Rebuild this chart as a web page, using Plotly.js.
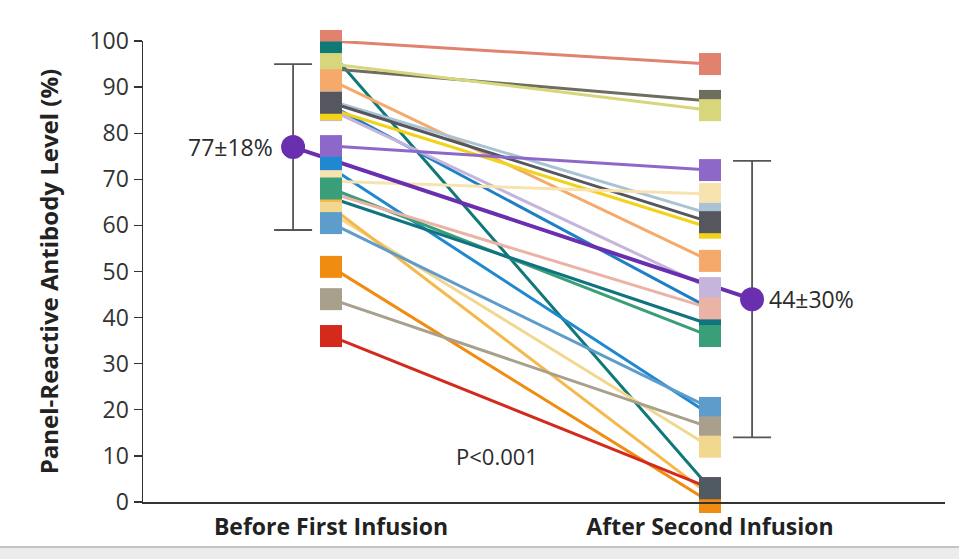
<!DOCTYPE html>
<html>
<head>
<meta charset="utf-8">
<script src="https://cdn.plot.ly/plotly-3.0.1.min.js"></script>
<style>
  html, body { margin: 0; padding: 0; background: #fff; }
  #chart { width: 959px; height: 559px; }
</style>
</head>
<body>
<div id="chart"></div>
<script>
// Panel-reactive antibody level per patient, before the first and after the second infusion (%)
const categories = ['Before First Infusion', 'After Second Infusion'];
const beforeFirst  = [100, 97.5, 94, 95, 91.5, 87, 86.6, 86, 85.2, 85, 77.2, 72.5, 69.6, 68, 67, 66, 62.7, 64, 60.5, 51, 44, 36];
const afterSecond  = [95, 3, 87, 85, 52.3, 62.5, 60.7, 42, 59.5, 46.4, 72, 19, 66.8, 36, 42, 38.5, 12, 1.5, 20.4, 0, 16.2, 3];
const patientColors = ['#e0826e', '#117878', '#6e6e5e', '#d8d67c', '#f5aa6c', '#a9c3d4', '#56565f', '#1f7fc4',
                       '#f2d21a', '#c5b5dc', '#8d68c8', '#1f88d0', '#f7e3b0', '#3a9e78', '#ebb3a6', '#0f7480',
                       '#f2d88e', '#f5b84a', '#5d9ccb', '#f08c10', '#a89f8c', '#d42a1c'];
// colour of the square drawn on top where several patients end at the same level
const afterMarkerColors = patientColors.slice();
afterMarkerColors[1] = '#4f5a62';
// stacking of the squares in each column (last drawn is on top)
const beforeStack = [5, 7, 9, 2, 14, 15, 17, 0, 1, 3, 4, 8, 6, 10, 11, 12, 13, 16, 18, 19, 20, 21];
const afterStack  = [0, 2, 3, 10, 12, 5, 8, 6, 4, 7, 15, 9, 14, 13, 11, 18, 20, 16, 17, 19, 21, 1];

// group summary (mean ± SD)
const meanLabels = ['77±18%', '44±30%'];
const groupMean = [77, 44];
const groupSD = [18, 30];
const pText = 'P<0.001';

const FONT = '"Open Sans", "DejaVu Sans", sans-serif';
const INK = '#2b2b2b';
const MEAN_PURPLE = '#6a2fae';

const traces = [];

// one connecting line per patient
beforeFirst.forEach((b, i) => {
  traces.push({
    type: 'scatter', mode: 'lines',
    x: [0, 1], y: [b, afterSecond[i]],
    line: { color: patientColors[i], width: 3 },
    hoverinfo: 'skip', showlegend: false, cliponaxis: false
  });
});

// line joining the two group means
traces.push({
  type: 'scatter', mode: 'lines',
  x: [-0.1, 1.111], y: groupMean,
  line: { color: MEAN_PURPLE, width: 4 },
  hoverinfo: 'skip', showlegend: false, cliponaxis: false
});

// squares before the first infusion
traces.push({
  type: 'scatter', mode: 'markers',
  x: beforeStack.map(() => 0), y: beforeStack.map(i => beforeFirst[i]),
  marker: { symbol: 'square', size: 22, color: beforeStack.map(i => patientColors[i]), line: { width: 0 } },
  showlegend: false, cliponaxis: false
});

// squares after the second infusion
traces.push({
  type: 'scatter', mode: 'markers',
  x: afterStack.map(() => 1), y: afterStack.map(i => afterSecond[i]),
  marker: { symbol: 'square', size: 22, color: afterStack.map(i => afterMarkerColors[i]), line: { width: 0 } },
  showlegend: false, cliponaxis: false
});

// mean ± SD points
traces.push({
  type: 'scatter', mode: 'markers',
  x: [-0.1, 1.111], y: groupMean,
  error_y: { type: 'data', array: groupSD, visible: true, color: '#555', thickness: 1.8, width: 19 },
  marker: { size: 24, color: MEAN_PURPLE },
  showlegend: false, cliponaxis: false
});

const layout = {
  width: 959, height: 559,
  margin: { l: 143, r: 14, t: 41, b: 57 },
  paper_bgcolor: '#fff', plot_bgcolor: '#fff',
  font: { family: FONT, color: INK },
  showlegend: false,
  xaxis: {
    range: [-0.496, 1.62],
    tickmode: 'array', tickvals: [0, 1], ticktext: categories,
    tickfont: { family: FONT, size: 23, color: '#222', weight: 'bold' },
    ticks: 'outside', ticklen: 4, tickcolor: 'rgba(0,0,0,0)',
    showline: true, linecolor: '#333', linewidth: 1.5,
    showgrid: false, zeroline: false, fixedrange: true
  },
  yaxis: {
    range: [0, 100], dtick: 10, tick0: 0,
    ticks: 'outside', ticklen: 8, tickwidth: 1.3, tickcolor: '#333',
    tickfont: { family: FONT, size: 23, color: '#333' },
    showline: true, linecolor: '#333', linewidth: 1.5,
    showgrid: false, zeroline: false, fixedrange: true,
    title: {
      text: 'Panel-Reactive Antibody Level (%)',
      font: { family: FONT, size: 24, color: '#222', weight: 'bold' },
      standoff: 24
    }
  },
  annotations: [
    { x: -0.148, y: groupMean[0], xref: 'x', yref: 'y', xanchor: 'right', yanchor: 'middle',
      text: meanLabels[0], showarrow: false, font: { family: FONT, size: 23, color: INK } },
    { x: 1.150, y: groupMean[1], xref: 'x', yref: 'y', xanchor: 'left', yanchor: 'middle',
      text: meanLabels[1], showarrow: false, font: { family: FONT, size: 23, color: INK } },
    { x: 0.438, y: 10, xref: 'x', yref: 'y', xanchor: 'center', yanchor: 'middle',
      text: pText, showarrow: false, font: { family: FONT, size: 22, color: INK } }
  ],
  shapes: [
    { type: 'rect', xref: 'paper', yref: 'paper', x0: -0.18, x1: 1.02, y0: -0.124, y1: -0.0976,
      fillcolor: '#ececec', line: { width: 0 }, layer: 'below' },
    { type: 'line', xref: 'paper', yref: 'paper', x0: -0.18, x1: 1.02, y0: -0.0976, y1: -0.0976,
      line: { color: '#c4c4c4', width: 2 } }
  ]
};

Plotly.newPlot('chart', traces, layout, { displayModeBar: false, staticPlot: true });
</script>
</body>
</html>
